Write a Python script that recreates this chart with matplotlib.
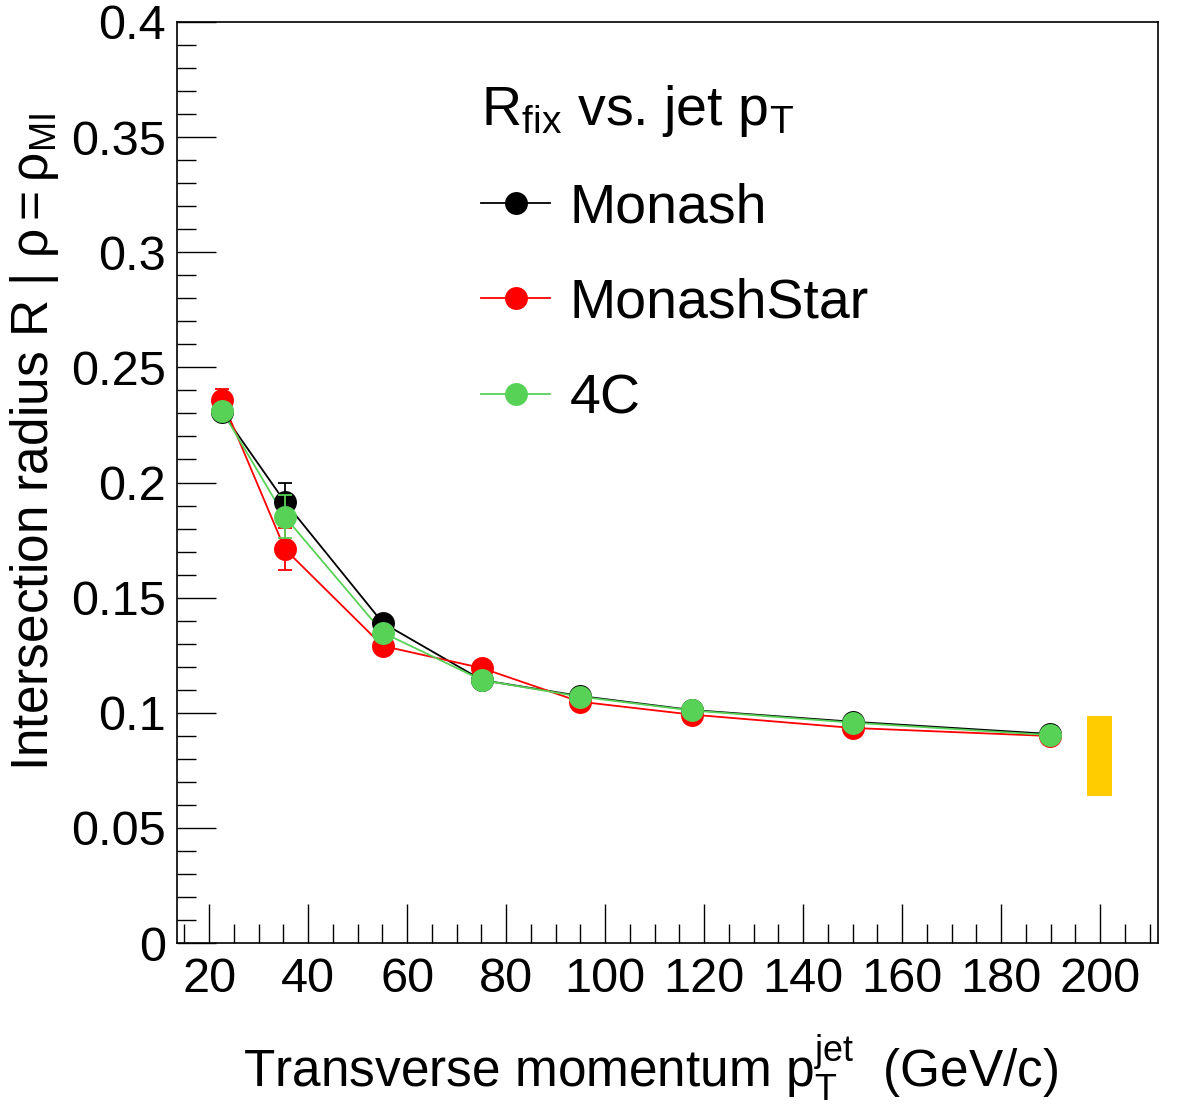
import numpy as np
import matplotlib
matplotlib.use("Agg")
import matplotlib.pyplot as plt
from matplotlib.ticker import MultipleLocator, FuncFormatter
from matplotlib.lines import Line2D

plt.rcParams['font.family'] = ['Liberation Sans', 'DejaVu Sans']
plt.rcParams['mathtext.fontset'] = 'custom'
plt.rcParams['mathtext.rm'] = 'Liberation Sans'
plt.rcParams['mathtext.it'] = 'Liberation Sans:italic'

# jet pT bin centres
pt = [22.6, 35.3, 55.1, 75.1, 94.9, 117.5, 150.0, 189.9]

# intersection radius per tune
monash = [0.2306, 0.1916, 0.1390, 0.1142, 0.1073, 0.1012, 0.0961, 0.0908]
monash_err = [0.002, 0.0081, 0.002, 0.0015, 0.0012, 0.001, 0.001, 0.001]
star = [0.2358, 0.1711, 0.1290, 0.1194, 0.1048, 0.0992, 0.0934, 0.0899]
star_err = [0.0048, 0.0091, 0.002, 0.0015, 0.0012, 0.001, 0.001, 0.001]
c4 = [0.2312, 0.1851, 0.1348, 0.1142, 0.1070, 0.1010, 0.0957, 0.0903]
c4_err = [0.002, 0.0094, 0.002, 0.0015, 0.0012, 0.001, 0.001, 0.001]

# reference band at the right edge
band_x = 199.9
band_w = 5.0
band_lo = 0.0638
band_hi = 0.0986

series = [
    ("Monash", monash, monash_err, "black"),
    ("MonashStar", star, star_err, "#ff0000"),
    ("4C", c4, c4_err, "#57d257"),
]

fig = plt.figure(figsize=(11.82, 11.11), dpi=100)
ax = fig.add_axes([0.1497, 0.1512, 0.9797 - 0.1497, 0.9802 - 0.1512])

handles = []
for name, vals, errs, col in series:
    ax.plot(pt, vals, color=col, lw=1.3, zorder=2)
    ax.errorbar(pt, vals, yerr=errs, fmt='none', ecolor=col,
                elinewidth=1.3, capsize=5, capthick=1.3, zorder=3)
    ax.plot(pt, vals, 'o', color=col, ms=16.5, mew=0, zorder=3)
    handles.append(Line2D([], [], color=col, lw=1.3, marker='o', ms=16.5, mew=0))

ax.bar(band_x, band_hi - band_lo, bottom=band_lo, width=band_w,
       color='#ffcc00', zorder=1)

ax.set_xlim(13.5, 211.7)
ax.set_ylim(0, 0.4)
ax.xaxis.set_major_locator(MultipleLocator(20))
ax.xaxis.set_minor_locator(MultipleLocator(5))
ax.yaxis.set_major_locator(MultipleLocator(0.05))
ax.yaxis.set_minor_locator(MultipleLocator(0.01))
ax.yaxis.set_major_formatter(FuncFormatter(lambda v, p: f"{v:g}"))
ax.tick_params(which='both', direction='in', top=False, right=False,
               labelsize=35, width=1)
ax.tick_params(which='major', length=28)
ax.tick_params(which='minor', length=14)
ax.tick_params(axis='x', which='major', pad=10)
ax.tick_params(axis='y', which='major', pad=8)
for s in ax.spines.values():
    s.set_linewidth(1.2)

ax.set_xlabel(r'Transverse momentum $\mathregular{p_{T}^{jet}}$  (GeV/c)',
              fontsize=37)
ax.xaxis.set_label_coords(0.898, -0.156)
ax.xaxis.label.set_horizontalalignment('right')
ax.xaxis.label.set_verticalalignment('baseline')
ax.set_ylabel(r'Intersection radius R | $\mathregular{\rho=\rho_{MI}}$',
              fontsize=37)
ax.yaxis.set_label_coords(-0.1448, 0.5434)
ax.yaxis.label.set_verticalalignment('center')
ax.yaxis.label.set_horizontalalignment('center')

leg = ax.legend(handles, [s[0] for s in series],
                title=r'$\mathregular{R_{fix}}$ vs. jet $\mathregular{p_{T}}$',
                loc='upper left', bbox_to_anchor=(0.259, 0.988),
                frameon=False, fontsize=40, title_fontsize=40,
                handlelength=1.25, handletextpad=0.35, labelspacing=0.78,
                alignment='left')

fig.savefig("out.png", dpi=100)
